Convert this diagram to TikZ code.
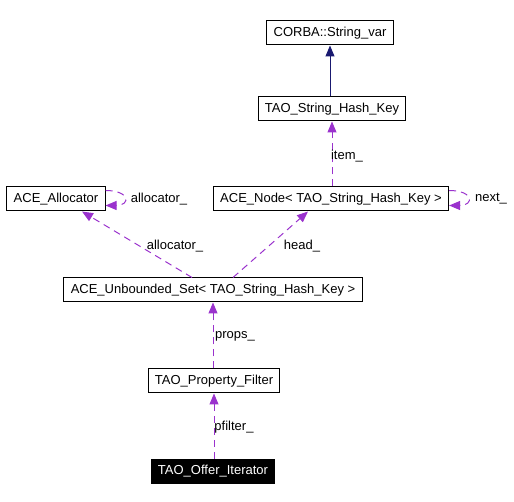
\documentclass[tikz,border=0pt]{standalone}
\usepackage{fontspec}
\setmainfont{Liberation Sans}
\usetikzlibrary{arrows.meta,positioning,calc}
\definecolor{usepurple}{RGB}{154,50,205}
\definecolor{inhnavy}{RGB}{25,25,112}
\begin{document}
\begin{tikzpicture}[
    x=1pt, y=-1pt,
    box/.style={draw, line width=1pt, minimum height=24pt, inner xsep=6.8pt, inner ysep=0pt, align=center, font=\fontsize{13}{15}\selectfont},
    lbl/.style={font=\fontsize{13}{15}\selectfont, inner sep=0pt},
    inharrow/.style={-{Triangle[length=11pt,width=9pt]}, line width=1pt, inhnavy},
    usearrow/.style={-{Triangle[length=11pt,width=9pt]}, line width=1pt, usepurple, dash pattern=on 7pt off 5pt}
]
    \useasboundingbox (0,0) rectangle (514,502);
    % Boxes
    \node[box] (corba) at (330,33) {CORBA::String\_var};
    \node[box] (hashkey) at (332,109) {TAO\_String\_Hash\_Key};
    \node[box] (alloc) at (56,199) {ACE\_Allocator};
    \node[box] (acenode) at (331,199) {ACE\_Node< TAO\_String\_Hash\_Key >};
    \node[box] (uset) at (213,290) {ACE\_Unbounded\_Set< TAO\_String\_Hash\_Key >};
    \node[box] (propfilter) at (214,381) {TAO\_Property\_Filter};
    \node[box, fill=black, text=white] (offeriter) at (213,471) {TAO\_Offer\_Iterator};

    % Arrows
    \draw[inharrow] (hashkey.north -| corba) -- (corba.south);
    \draw[usearrow] (acenode.north -| hashkey) -- (hashkey.south);
    \draw[usearrow] ([yshift=-4pt]alloc.north east) .. controls +(25pt,0) and +(25pt,0) .. ([yshift=6pt]alloc.south east);
    \draw[usearrow] ([yshift=-4pt]acenode.north east) .. controls +(25pt,0) and +(25pt,0) .. ([yshift=6pt]acenode.south east);
    \draw[usearrow] ([xshift=-21pt]uset.north) -- ([xshift=26pt]alloc.south);
    \draw[usearrow] ([xshift=20pt]uset.north) -- ([xshift=-23pt]acenode.south);
    \draw[usearrow] (propfilter.north -| uset) -- (uset.south);
    \draw[usearrow] (offeriter.north -| propfilter) -- (propfilter.south);

    % Labels
    \node[lbl] at (347,156) {item\_};
    \node[lbl] at (159,199) {allocator\_};
    \node[lbl] at (491,199) {next\_};
    \node[lbl] at (175,246) {allocator\_};
    \node[lbl] at (302,246) {head\_};
    \node[lbl] at (235,336) {props\_};
    \node[lbl] at (234,427) {pfilter\_};
\end{tikzpicture}
\end{document}
